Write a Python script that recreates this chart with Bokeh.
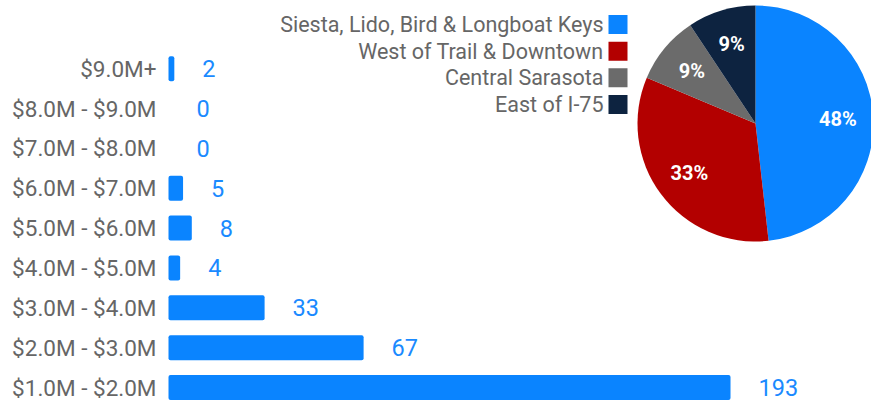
import math
from bokeh.plotting import figure
from bokeh.models import Range1d, ColumnDataSource
from bokeh.core.properties import value
from bokeh.embed import file_html
from bokeh.resources import INLINE

# ---- data ----
categories = ["$1.0M - $2.0M", "$2.0M - $3.0M", "$3.0M - $4.0M", "$4.0M - $5.0M",
              "$5.0M - $6.0M", "$6.0M - $7.0M", "$7.0M - $8.0M", "$8.0M - $9.0M", "$9.0M+"]
counts = [193, 67, 33, 4, 8, 5, 0, 0, 2]

areas = ["Siesta, Lido, Bird & Longboat Keys", "West of Trail & Downtown",
         "Central Sarasota", "East of I-75"]
area_counts = [150, 103, 29, 29]
area_colors = ["#0a84ff", "#b30000", "#6b6b6b", "#0d2340"]

BLUE = "#0a84ff"
FONT = value("Roboto")

# ---- layout constants (screen px inside canvas) ----
W, H = 871, 402
X0, XS = 168.0, 2.912      # px of value 0, px per unit
Y0, YS = 387.0, 39.85      # px of first row centre, px per row

def dx(px):
    return (px - X0) / XS

def dy(py):
    return (Y0 - py) / YS

p = figure(width=W, height=H, output_backend="svg", toolbar_location=None,
           x_range=Range1d(dx(0), dx(W)), y_range=Range1d(dy(H), dy(0)),
           x_axis_type=None, y_axis_type=None, min_border=0,
           background_fill_color="white", border_fill_color="white")
p.outline_line_color = None
p.grid.visible = False

idx = list(range(len(categories)))
bars = ColumnDataSource(dict(y=idx, v=counts, lab=[str(c) for c in counts], cat=categories))

p.hbar(y="y", left=0, right="v", height=25 / YS, source=bars,
       fill_color=BLUE, line_color=None, border_radius=2)
p.text(x="v", y="y", text="lab", source=bars, x_offset=28,
       text_align="left", text_baseline="middle",
       text_font=FONT, text_font_size="23.5px", text_color="#1a8aff")
p.text(x=0, y="y", text="cat", source=bars, x_offset=-12,
       text_align="right", text_baseline="middle",
       text_font=FONT, text_font_size="22.5px", text_color="#666666")

# ---- pie ----
total = float(sum(area_counts))
starts, ends, mids = [], [], []
cum = 0.0
for c in area_counts:
    a0 = math.pi / 2 - 2 * math.pi * cum / total
    cum += c
    a1 = math.pi / 2 - 2 * math.pi * cum / total
    starts.append(a0)
    ends.append(a1)
    mids.append((a0 + a1) / 2)

R = 118
pcx, pcy = dx(755), dy(123)
pie = ColumnDataSource(dict(
    s=starts, e=ends, col=area_colors,
    lab=["%d%%" % round(100 * c / total) for c in area_counts],
    xo=[0.7 * R * math.cos(m) for m in mids],
    yo=[-0.7 * R * math.sin(m) for m in mids],
))
p.wedge(x=pcx, y=pcy, radius=R, radius_units="screen", start_angle="s", end_angle="e",
        direction="clock", fill_color="col", line_color=None, source=pie)
p.text(x=pcx, y=pcy, text="lab", x_offset="xo", y_offset="yo", source=pie,
       text_align="center", text_baseline="middle", text_font=FONT,
       text_font_size="20px", text_font_style="bold", text_color="white")

# ---- legend ----
ly = [dy(24 + 26.67 * i) for i in range(len(areas))]
leg = ColumnDataSource(dict(y=ly, col=area_colors, lab=areas))
p.rect(x=dx(617.5), y="y", width=19, height=19, width_units="screen", height_units="screen",
       fill_color="col", line_color=None, source=leg)
p.text(x=dx(603), y="y", text="lab", source=leg, text_align="right", text_baseline="middle",
       text_font=FONT, text_font_size="21.5px", text_color="#666666")

open("out.html", "w").write(file_html(p, INLINE))
